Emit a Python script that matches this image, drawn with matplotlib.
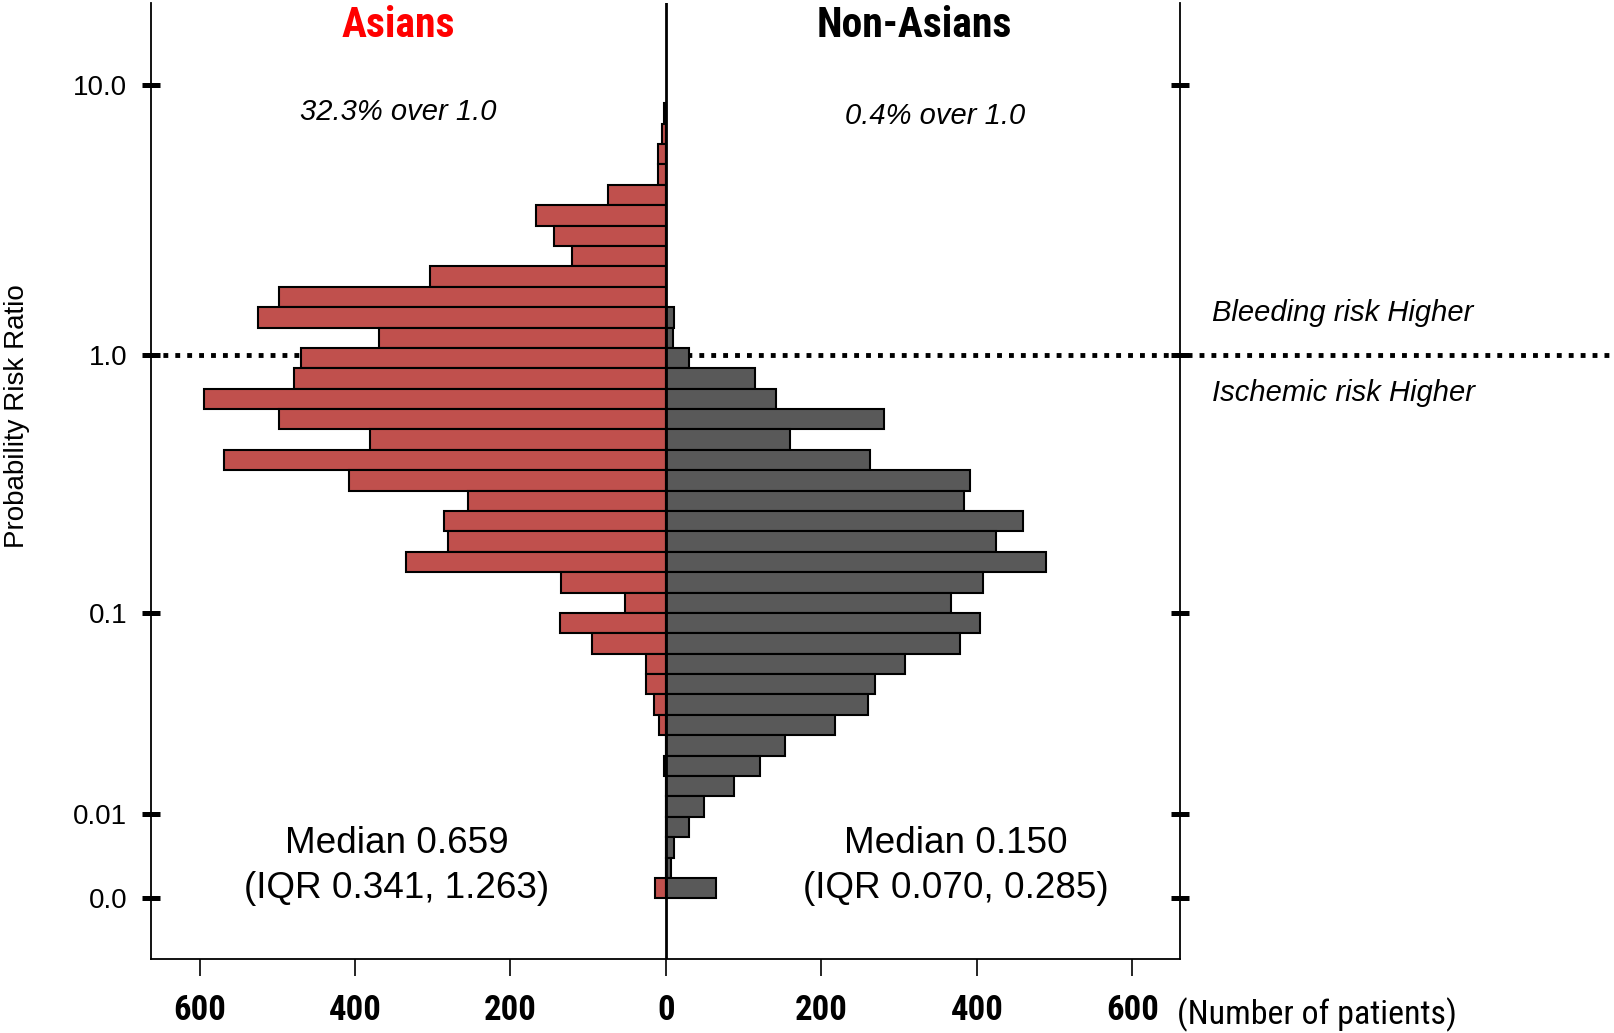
import numpy as np
import matplotlib
matplotlib.use("Agg")
import matplotlib.pyplot as plt
from matplotlib import font_manager

# ---------------- data (bins listed from the top bin down to the "0.0" bin) -------------
asians = [3, 5, 10, 10, 75, 167, 144, 121, 304, 498, 525, 369, 469, 478, 594, 498, 381,
          568, 408, 255, 286, 281, 335, 135, 53, 136, 95, 26, 26, 16, 9, 0, 3, 0, 0, 0,
          0, 0, 14]
non_asians = [0, 0, 0, 0, 0, 0, 0, 0, 0, 0, 10, 9, 30, 114, 142, 281, 160, 262, 391, 383,
              460, 425, 489, 408, 367, 404, 378, 307, 269, 260, 218, 153, 121, 88, 49, 30,
              11, 6, 65]
ytick_labels = ["10.0", "1.0", "0.1", "0.01", "0.0"]
ytick_bins = [39.9, 26.64, 13.98, 4.12, 0.0]      # where each label sits on the bin axis
xtick_values = [-600, -400, -200, 0, 200, 400, 600]
xtick_labels = ["600", "400", "200", "0", "200", "400", "600"]
group_names = ["Asians", "Non-Asians"]
over_text = ["32.3% over 1.0", "0.4% over 1.0"]
median_text = ["Median 0.659\n(IQR 0.341, 1.263)", "Median 0.150\n(IQR 0.070, 0.285)"]

# ---------------- fonts -------------
avail = {f.name for f in font_manager.fontManager.ttflist}
REG = "Liberation Sans" if "Liberation Sans" in avail else "DejaVu Sans"
NARROW, nscale = REG, 0.87
for cand in ["Liberation Sans Narrow", "Arial Narrow", "Roboto Condensed",
             "Open Sans Condensed", "Noto Sans Condensed"]:
    if cand in avail:
        NARROW, nscale = cand, 1.0
        break
plt.rcParams["font.family"] = [REG, "DejaVu Sans"]

RED = "#C0504D"
DARK = "#595959"

fig = plt.figure(figsize=(16.14, 10.33), dpi=100)
ax = fig.add_axes([0.0938, 0.0716, 0.6376, 0.9255])

n = len(asians)
ypos = np.arange(n)[::-1]          # top bin first

# dotted reference line at 1.0 (behind bars, runs past right axis)
ax.plot([-662, 1400], [ytick_bins[1], ytick_bins[1]], color="black", lw=3.5,
        linestyle=(0, (1.0, 1.45)), dash_capstyle="butt", clip_on=False, zorder=1)

ax.barh(ypos, -np.array(asians), height=1.0, align="edge", color=RED,
        edgecolor="black", linewidth=1.5, zorder=2)
ax.barh(ypos, np.array(non_asians), height=1.0, align="edge", color=DARK,
        edgecolor="black", linewidth=1.5, zorder=2)

ax.axvline(0, color="black", lw=2.0, zorder=3)

ax.set_xlim(-662, 662)
ax.set_ylim(-2.98, 43.92)

ax.spines["top"].set_visible(False)
for s in ["left", "right", "bottom"]:
    ax.spines[s].set_linewidth(1.3)

ax.set_yticks(ytick_bins)
ax.set_yticklabels(ytick_labels, fontsize=20, family=REG)
ax.tick_params(axis="y", direction="inout", length=13, width=3.6, pad=11,
               left=True, right=True, labelleft=True, labelright=False)

ax.set_xticks(xtick_values)
ax.set_xticklabels(xtick_labels, fontsize=25 * nscale, family=NARROW, fontweight="bold")
ax.tick_params(axis="x", direction="out", length=12, width=1.2, pad=13)

# titles
ax.text(-344, 42.25, group_names[0], ha="center", va="baseline", color="#FF0000",
        fontsize=30 * nscale, family=NARROW, fontweight="bold")
ax.text(320, 42.25, group_names[1], ha="center", va="baseline", color="black",
        fontsize=30 * nscale, family=NARROW, fontweight="bold")

ax.text(-344, 38.16, over_text[0], ha="center", va="baseline", fontsize=21,
        style="italic", family=REG)
ax.text(346, 37.96, over_text[1], ha="center", va="baseline", fontsize=21,
        style="italic", family=REG)

# medians
for xc, txt in zip([-346, 373.5], median_text):
    l1, l2 = txt.split("\n")
    ax.text(xc, 2.21, l1, ha="center", va="baseline", fontsize=26.6, family=REG)
    ax.text(xc, 0.0, l2, ha="center", va="baseline", fontsize=26.6, family=REG)

# right-side annotations
ax.text(702, 28.33, "Bleeding risk Higher", ha="left", va="baseline", fontsize=21,
        style="italic", family=REG, clip_on=False)
ax.text(702, 24.38, "Ischemic risk Higher", ha="left", va="baseline", fontsize=21,
        style="italic", family=REG, clip_on=False)

fig.text(1176.6 / 1614, (1033 - 1024) / 1033, "(Number of patients)", ha="left",
         va="baseline", fontsize=24.5 * (1.0 if nscale == 1.0 else 0.9), family=NARROW)
fig.text(17 / 1614, (1033 - 416) / 1033, "Probability Risk Ratio", rotation=90,
         ha="center", va="center", fontsize=20, family=REG)

fig.savefig("out.png", dpi=100)
